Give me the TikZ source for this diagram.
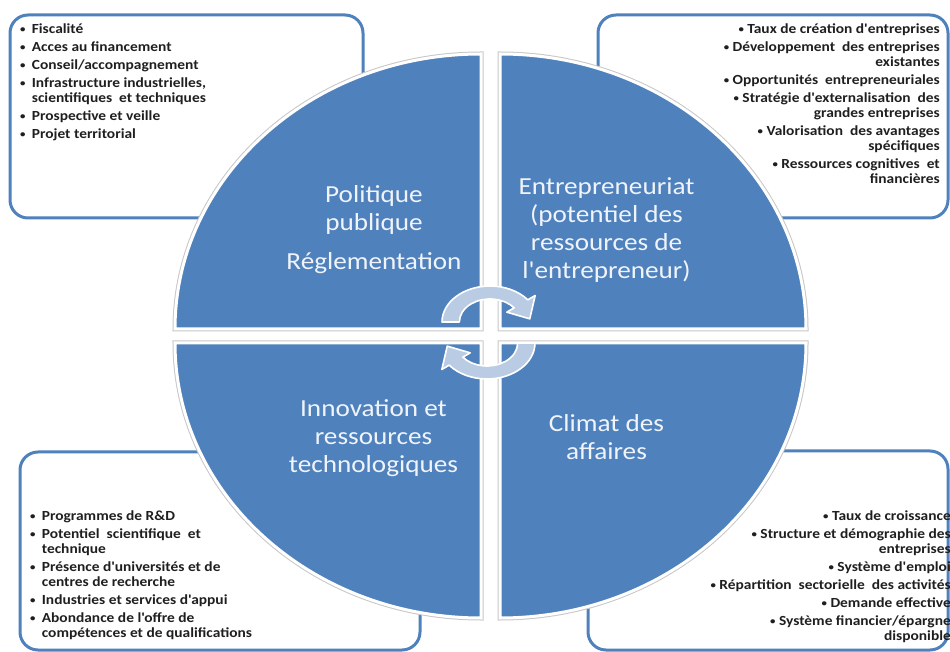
\documentclass[tikz,border=0pt]{standalone}
\usepackage{fontspec}
\setmainfont{Carlito}[Ligatures=TeXOff]
\usepackage{graphicx}
\definecolor{qblue}{RGB}{79,129,189}
\definecolor{arrowc}{RGB}{186,204,228}
\definecolor{labelc}{RGB}{240,244,250}
\newcommand{\stretchx}[1]{\scalebox{1.11}[1]{#1}}
\newcommand{\smallbul}{\raisebox{0.8pt}{\scalebox{0.7}{•}}}
\newcommand{\bul}{\makebox[10.5pt][l]{\smallbul}}
\newcommand{\rbul}{\smallbul\ }
\begin{document}
\begin{tikzpicture}[x=1pt,y=1pt,
  boxs/.style={draw=qblue, line width=3pt, rounded corners=18pt, fill=white},
  quadshadow/.style={draw=black!22, line width=5pt},
  quadfill/.style={fill=qblue, draw=white, line width=3pt},
  arrowshape/.style={fill=arrowc, draw=white, line width=1.6pt, line join=round},
  mainlbl/.style={inner sep=0pt, anchor=base, text=labelc, font=\fontsize{24.5}{28}\selectfont},
  listtxt/.style={inner sep=0pt, text=black!88, font=\bfseries\fontsize{13.9}{15}\selectfont}]
\useasboundingbox (0,0) rectangle (950,651);
% boxes
\draw[boxs] (10,636) rectangle (363,433);
\draw[boxs] (598,636) rectangle (948,433);
\draw[boxs] (20,199) rectangle (420,1);
\draw[boxs] (588,200) rectangle (948,1);
% quadrants
\foreach \st in {quadshadow, quadfill}{
  \path[\st] (481,322) -- (175,322) arc[start angle=180, end angle=90, x radius=306, y radius=275] -- cycle;
  \path[\st] (500,322) -- (806,322) arc[start angle=0, end angle=90, x radius=306, y radius=275] -- cycle;
  \path[\st] (481,308) -- (175,308) arc[start angle=180, end angle=270, x radius=306, y radius=275] -- cycle;
  \path[\st] (500,308) -- (806,308) arc[start angle=0, end angle=-90, x radius=306, y radius=275] -- cycle;
}
% circular arrows
\begin{scope}[shift={(490,329)}, xscale=1.333]
  \path[arrowshape] (180:36pt) arc[start angle=180, end angle=38, radius=36pt] -- (38:43pt) -- (6:30pt) -- (38:16pt) -- (38:23pt) arc[start angle=38, end angle=180, radius=23pt] -- cycle;
\end{scope}
\begin{scope}[shift={(487,308)}, xscale=1.333, rotate=180]
  \path[arrowshape] (180:36pt) arc[start angle=180, end angle=38, radius=36pt] -- (38:43pt) -- (6:30pt) -- (38:16pt) -- (38:23pt) arc[start angle=38, end angle=180, radius=23pt] -- cycle;
\end{scope}
% main labels
\node[mainlbl] (pol) at (374,448) {\stretchx{\begin{tabular}[t]{@{}c@{}}Politique\\publique\\[11pt]Réglementation\end{tabular}}};
\node[mainlbl] (ent) at (606.5,456) {\stretchx{\begin{tabular}[t]{@{}c@{}}Entrepreneuriat\\(potentiel des\\ressources de\\l'entrepreneur)\end{tabular}}};
\node[mainlbl] (inn) at (373.5,234.3) {\stretchx{\begin{tabular}[t]{@{}c@{}}Innovation et\\ressources\\technologiques\end{tabular}}};
\node[mainlbl] (cli) at (606.5,219.3) {\stretchx{\begin{tabular}[t]{@{}c@{}}Climat des\\affaires\end{tabular}}};
% lists
\node[listtxt, anchor=base west] (tllist) at (20,617.5) {\stretchx{\begin{tabular}[t]{@{}l@{}l@{}}
\bul & Fiscalité\\[3pt]
\bul & Acces au financement\\[3pt]
\bul & Conseil/accompagnement\\[3pt]
\bul & Infrastructure industrielles,\\
 & scientifiques\ \ et techniques\\[3pt]
\bul & Prospective et veille\\[3pt]
\bul & Projet territorial
\end{tabular}}};
\node[listtxt, anchor=base east] (trlist) at (940,617.7) {\stretchx{\begin{tabular}[t]{@{}r@{}}
\rbul Taux de création d'entreprises\\[3pt]
\rbul Développement\ \ des entreprises\\
existantes\\[3pt]
\rbul Opportunités\ \ entrepreneuriales\\[3pt]
\rbul Stratégie d'externalisation\ \ des\\
grandes entreprises\\[3pt]
\rbul Valorisation\ \ des avantages\\
spécifiques\\[3pt]
\rbul Ressources cognitives\ \ et\\
financières
\end{tabular}}};
\node[listtxt, anchor=base west] (bllist) at (30,131) {\stretchx{\begin{tabular}[t]{@{}l@{}l@{}}
\bul & Programmes de R\&D\\[3pt]
\bul & Potentiel\ \ scientifique\ \ et\\
 & technique\\[3pt]
\bul & Présence d'universités et de\\
 & centres de recherche\\[3pt]
\bul & Industries et services d'appui\\[3pt]
\bul & Abondance de l'offre de\\
 & compétences et de qualifications
\end{tabular}}};
\node[listtxt, anchor=base east] (brlist) at (951,131) {\stretchx{\begin{tabular}[t]{@{}r@{}}
\rbul Taux de croissance\\[3pt]
\rbul Structure et démographie des\\
entreprises\\[3pt]
\rbul Système d'emploi\\[3pt]
\rbul Répartition\ \ sectorielle\ \ des activités\\[3pt]
\rbul Demande effective\\[3pt]
\rbul Système financier/épargne\\
disponible
\end{tabular}}};
\end{tikzpicture}
\end{document}
